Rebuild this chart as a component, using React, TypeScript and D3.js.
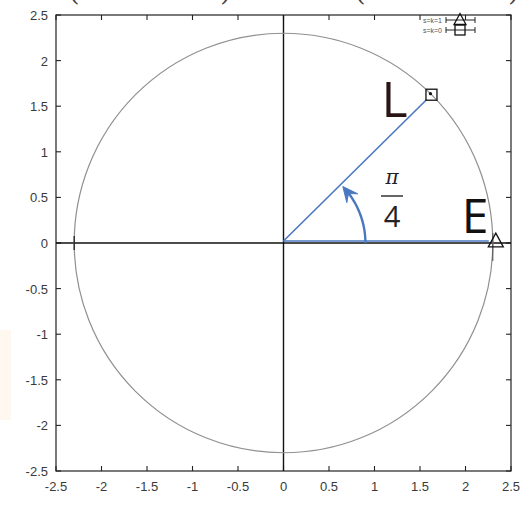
import React from "react";
import * as d3 from "d3";

const tickValues = [-2.5, -2, -1.5, -1, -0.5, 0, 0.5, 1, 1.5, 2, 2.5];
const tickLabels = ["-2.5", "-2", "-1.5", "-1", "-0.5", "0", "0.5", "1", "1.5", "2", "2.5"];
const circleRadius = 2.3;
const pointNames = ["L", "E"];
const pointX = [1.626, 2.3];
const pointY = [1.626, 0];
const pointMarkers = ["square", "triangle"];
const legendLabels = ["s=k=1", "s=k=0"];
const legendMarkers = ["triangle", "square"];
const angleLabelTop = "π";
const angleLabelBottom = "4";
const arcRadius = 0.9;
const arcEndDeg = 39;

const W = 529, H = 505;
const L0 = 56, R0 = 511, T0 = 15, B0 = 471;

export default function App() {
  const x = d3.scaleLinear().domain([-2.5, 2.5]).range([L0, R0]);
  const y = d3.scaleLinear().domain([-2.5, 2.5]).range([B0, T0]);
  const px = (x(circleRadius) - x(0));
  const py = (y(0) - y(circleRadius));
  const blue = "#4a78c0";
  const tickLen = 5;
  const font = "'Liberation Sans', Arial, sans-serif";

  const ar = x(arcRadius) - x(0);
  const arcPts: [number, number][] = d3.range(0, arcEndDeg + 0.5, 1).map((a) => {
    const t = (a * Math.PI) / 180;
    return [x(0) + ar * Math.cos(t), y(0) - ar * Math.sin(t)];
  });
  const arcPath = d3.line()(arcPts) as string;
  const te = (arcEndDeg * Math.PI) / 180;
  const tip: [number, number] = [x(0) + ar * Math.cos(te + 0.08), y(0) - ar * Math.sin(te + 0.08)];
  const dir: [number, number] = [-Math.sin(te), -Math.cos(te)];
  const nrm: [number, number] = [-dir[1], dir[0]];
  const ahL = 15, ahW = 7;
  const base: [number, number] = [tip[0] - dir[0] * ahL, tip[1] - dir[1] * ahL];
  const mid: [number, number] = [tip[0] - dir[0] * ahL * 0.6, tip[1] - dir[1] * ahL * 0.6];
  const arrowHead = `M${tip[0]},${tip[1]} L${base[0] + nrm[0] * ahW},${base[1] + nrm[1] * ahW} L${mid[0]},${mid[1]} L${base[0] - nrm[0] * ahW},${base[1] - nrm[1] * ahW} Z`;

  const marker = (kind: string, cx: number, cy: number, s: number, key: string) => {
    if (kind === "square") {
      return (
        <rect key={key} x={cx - s / 2} y={cy - s / 2} width={s} height={s} fill="none" stroke="#111" strokeWidth={1.3} />
      );
    }
    const h = s * 0.9;
    return (
      <path key={key} d={`M${cx},${cy - h / 2 - 2} L${cx + s / 2 + 1},${cy + h / 2} L${cx - s / 2 - 1},${cy + h / 2} Z`} fill="none" stroke="#111" strokeWidth={1.3} />
    );
  };

  return (
    <svg width={W} height={H} style={{ position: "absolute", left: 0, top: 0, background: "#fff" }}>
      <rect x={0} y={0} width={W} height={H} fill="#fff" />
      <rect x={0} y={330} width={11} height={90} fill="#fff8f0" />

      {/* cropped formula fragments at top */}
      <g fontFamily="'DejaVu Serif', serif" fill="#444" fontSize={30}>
        <text x={68} y={0}>(</text>
        <text x={82} y={-6} fontSize={22}>1/</text>
        <text x={220} y={0}>)</text>
        <text x={354} y={0}>(</text>
        <text x={368} y={-6} fontSize={22}>1/</text>
        <text x={508} y={0}>)</text>
      </g>

      <rect x={L0} y={T0} width={R0 - L0} height={B0 - T0} fill="none" stroke="#222" strokeWidth={1.2} />
      {tickValues.map((v, i) => (
        <g key={"t" + i} stroke="#222" strokeWidth={1.1}>
          <line x1={x(v)} x2={x(v)} y1={B0} y2={B0 - tickLen} />
          <line x1={x(v)} x2={x(v)} y1={T0} y2={T0 + tickLen} />
          <line x1={L0} x2={L0 + tickLen} y1={y(v)} y2={y(v)} />
          <line x1={R0} x2={R0 - tickLen} y1={y(v)} y2={y(v)} />
        </g>
      ))}
      <g fontFamily={font} fontSize={13} fill="#3a3a3a">
        {tickValues.map((v, i) => (
          <text key={"xl" + i} x={x(v)} y={B0 + 20} textAnchor="middle">{tickLabels[i]}</text>
        ))}
        {tickValues.map((v, i) => (
          <text key={"yl" + i} x={L0 - 8} y={y(v) + 5} textAnchor="end">{tickLabels[i]}</text>
        ))}
      </g>

      <line x1={x(0)} x2={x(0)} y1={T0} y2={B0} stroke="#111" strokeWidth={1.4} />
      <line x1={L0} x2={R0} y1={y(0)} y2={y(0)} stroke="#111" strokeWidth={1.4} />

      <ellipse cx={x(0)} cy={y(0)} rx={px} ry={py} fill="none" stroke="#909090" strokeWidth={1.2} />
      <line x1={x(-circleRadius)} x2={x(-circleRadius)} y1={y(0) - 7} y2={y(0) + 7} stroke="#222" strokeWidth={1.3} />

      <line x1={x(0)} y1={y(0) - 2} x2={x(pointX[0]) - 5} y2={y(pointY[0]) + 5} stroke={blue} strokeWidth={1.6} />
      <line x1={x(0)} y1={y(0) - 2} x2={x(pointX[1]) - 4} y2={y(pointY[1]) - 2} stroke={blue} strokeWidth={1.6} />

      <path d={arcPath} fill="none" stroke={blue} strokeWidth={2.4} />
      <path d={arrowHead} fill={blue} stroke={blue} strokeWidth={1} strokeLinejoin="round" />

      {pointX.map((v, i) => (
        <g key={"m" + i}>
          {pointMarkers[i] === "triangle" && (
            <line x1={x(v)} x2={x(v)} y1={y(pointY[i]) - 10} y2={y(pointY[i]) + 18} stroke="#555" strokeWidth={1.1} />
          )}
          {marker(pointMarkers[i], x(v) + (pointMarkers[i] === "triangle" ? 3 : 0), y(pointY[i]) - (pointMarkers[i] === "triangle" ? 2 : 0), pointMarkers[i] === "square" ? 11 : 13, "mk" + i)}
          {pointMarkers[i] === "square" && <circle cx={x(v) - 1} cy={y(pointY[i]) - 1} r={1.6} fill="#111" />}
        </g>
      ))}

      <text x={x(pointX[0]) - 50} y={y(pointY[0]) + 22} fontFamily="'Open Sans', 'Liberation Sans', sans-serif" fontSize={50} fill="#2a1414">{pointNames[0]}</text>
      <text x={x(pointX[1]) - 31} y={y(pointY[1]) - 10} fontFamily="'Open Sans', 'Liberation Sans', sans-serif" fontSize={48} fill="#111">{pointNames[1]}</text>

      <text x={392} y={184} textAnchor="middle" fontFamily="'DejaVu Serif', serif" fontStyle="italic" fontSize={20} fill="#222">{angleLabelTop}</text>
      <line x1={381} x2={403} y1={196} y2={196} stroke="#333" strokeWidth={1.5} />
      <text x={392} y={227} textAnchor="middle" fontFamily="'Open Sans', 'Liberation Sans', sans-serif" fontSize={29} fill="#222">{angleLabelBottom}</text>

      <g fontFamily={font} fontSize={7} fill="#555">
        {legendLabels.map((lab, i) => {
          const ly = 20 + i * 10;
          return (
            <g key={"lg" + i}>
              <text x={442} y={ly + 2.5} textAnchor="end">{lab}</text>
              <line x1={446} x2={475} y1={ly} y2={ly} stroke="#222" strokeWidth={1} />
              <line x1={446} x2={446} y1={ly - 3} y2={ly + 3} stroke="#222" strokeWidth={1} />
              <line x1={475} x2={475} y1={ly - 3} y2={ly + 3} stroke="#222" strokeWidth={1} />
              {marker(legendMarkers[i], 460, ly, 10, "lm" + i)}
            </g>
          );
        })}
      </g>
    </svg>
  );
}
